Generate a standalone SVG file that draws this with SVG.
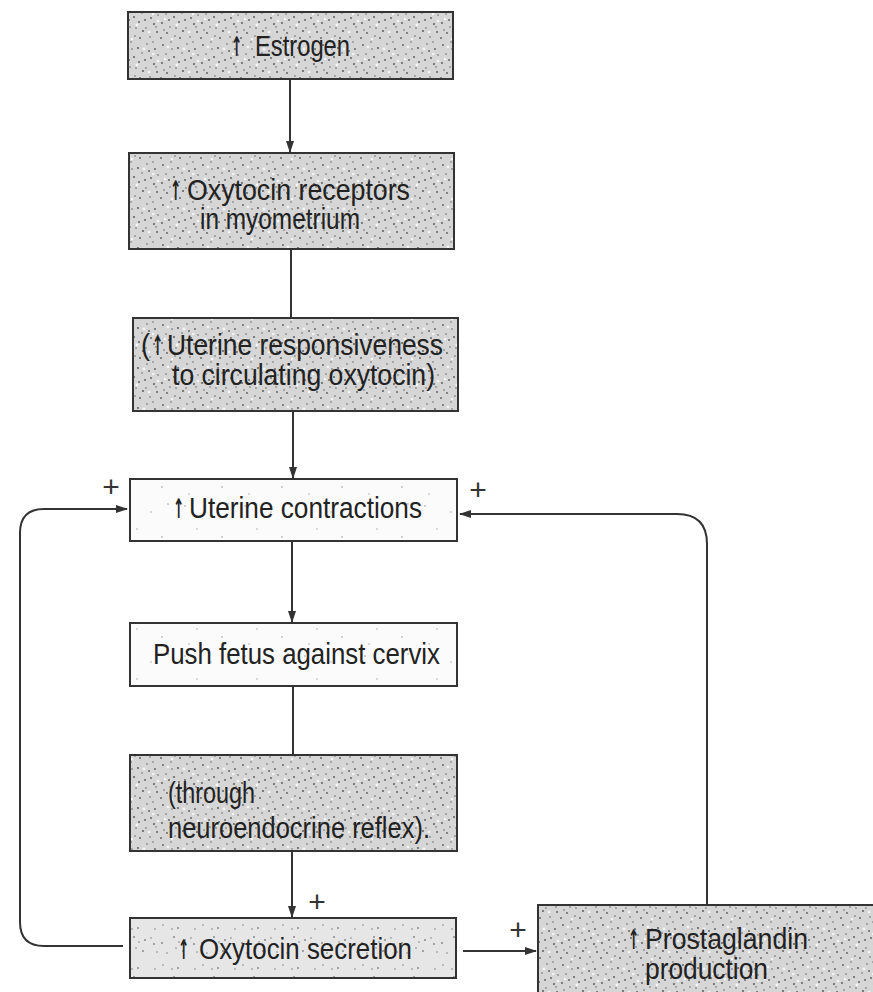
<svg xmlns="http://www.w3.org/2000/svg" width="873" height="992" viewBox="0 0 873 992">
<style>
.box{stroke:#333;stroke-width:2}
.t{font-family:"Liberation Sans",Arial,sans-serif;font-size:29px;fill:#222}
.ar{font-family:"DejaVu Sans",sans-serif;font-size:18px;font-weight:bold;fill:#222}
.plus{font-family:"Liberation Sans",Arial,sans-serif;font-size:30px;fill:#333;text-anchor:middle}
.c{fill:none;stroke:#333;stroke-width:2}
</style>
<defs>
<pattern id="stip" width="40" height="40" patternUnits="userSpaceOnUse">
<rect width="40" height="40" fill="#d6d6d6"/>
<g fill="#666">
<circle cx="3" cy="5" r="1"/><circle cx="11" cy="2" r="0.8"/><circle cx="18" cy="8" r="1.1"/><circle cx="27" cy="4" r="0.8"/><circle cx="35" cy="9" r="1"/>
<circle cx="6" cy="14" r="0.8"/><circle cx="14" cy="17" r="1.1"/><circle cx="22" cy="13" r="0.8"/><circle cx="31" cy="18" r="1"/><circle cx="38" cy="15" r="0.8"/>
<circle cx="2" cy="23" r="1.1"/><circle cx="10" cy="27" r="0.8"/><circle cx="19" cy="22" r="1"/><circle cx="26" cy="28" r="0.8"/><circle cx="34" cy="24" r="1.1"/>
<circle cx="7" cy="33" r="1"/><circle cx="15" cy="36" r="0.8"/><circle cx="23" cy="31" r="1.1"/><circle cx="30" cy="37" r="0.8"/><circle cx="37" cy="32" r="1"/>
<circle cx="12" cy="9" r="0.8"/><circle cx="29" cy="11" r="1"/><circle cx="4" cy="30" r="0.8"/><circle cx="20" cy="38" r="1"/><circle cx="33" cy="2" r="0.8"/>
<circle cx="25" cy="20" r="1"/><circle cx="16" cy="28" r="0.8"/><circle cx="9" cy="20" r="1"/><circle cx="36" cy="27" r="0.8"/><circle cx="1" cy="38" r="1"/>
</g>
<g fill="#f6f6f6">
<circle cx="8" cy="7" r="1.3"/><circle cx="24" cy="9" r="1.4"/><circle cx="33" cy="14" r="1.2"/><circle cx="5" cy="19" r="1.3"/><circle cx="17" cy="25" r="1.4"/><circle cx="29" cy="32" r="1.3"/><circle cx="12" cy="39" r="1.2"/><circle cx="38" cy="21" r="1.3"/>
</g>
</pattern>
<pattern id="stipLight" width="40" height="40" patternUnits="userSpaceOnUse">
<rect width="40" height="40" fill="#e6e6e6"/>
<g fill="#808080">
<circle cx="3" cy="5" r="0.8"/><circle cx="18" cy="8" r="0.9"/><circle cx="35" cy="9" r="0.8"/><circle cx="14" cy="17" r="0.9"/><circle cx="31" cy="18" r="0.8"/>
<circle cx="2" cy="23" r="0.9"/><circle cx="19" cy="22" r="0.8"/><circle cx="34" cy="24" r="0.9"/><circle cx="7" cy="33" r="0.8"/><circle cx="23" cy="31" r="0.9"/>
<circle cx="37" cy="32" r="0.8"/><circle cx="12" cy="9" r="0.8"/><circle cx="25" cy="20" r="0.9"/><circle cx="16" cy="28" r="0.8"/>
</g>
</pattern>
<pattern id="stipFaint" width="60" height="50" patternUnits="userSpaceOnUse">
<rect width="60" height="50" fill="#fbfbfb"/>
<g fill="#9a9a9a">
<circle cx="5" cy="6" r="0.8"/><circle cx="31" cy="12" r="0.7"/><circle cx="48" cy="4" r="0.8"/><circle cx="17" cy="29" r="0.7"/><circle cx="42" cy="37" r="0.8"/><circle cx="9" cy="44" r="0.7"/>
</g>
</pattern>
<marker id="ah" viewBox="0 0 12 10" refX="11" refY="5" markerWidth="12" markerHeight="10" markerUnits="userSpaceOnUse" orient="auto">
<path d="M0,1 L12,5 L0,9 Z" fill="#333"/>
</marker>
</defs>

<g id="connectors">
<line class="c" x1="290" y1="80" x2="290" y2="152" marker-end="url(#ah)"/>
<line class="c" x1="291" y1="249" x2="291" y2="318"/>
<line class="c" x1="293" y1="411" x2="293" y2="478" marker-end="url(#ah)"/>
<line class="c" x1="292" y1="541" x2="292" y2="622" marker-end="url(#ah)"/>
<line class="c" x1="293" y1="686" x2="293" y2="755"/>
<line class="c" x1="292" y1="851" x2="292" y2="917" marker-end="url(#ah)"/>
<path class="c" d="M123,946 H44 Q20,946 20,922 V533 Q20,509 44,509 H127" marker-end="url(#ah)"/>
<path class="c" d="M707,905 V544 Q707,514 677,514 H460" marker-end="url(#ah)"/>
<line class="c" x1="463" y1="951" x2="536" y2="951" marker-end="url(#ah)"/>
<text class="plus" x="111" y="497">+</text>
<text class="plus" x="478" y="500">+</text>
<text class="plus" x="317" y="912">+</text>
<text class="plus" x="518" y="940">+</text>
</g>

<g id="estrogen">
<rect class="box" x="128" y="12" width="325" height="67" fill="url(#stip)"/>
<text class="ar" transform="translate(231,56) scale(0.75,1.5)">↑</text>
<text class="t" x="255" y="56" textLength="95" lengthAdjust="spacingAndGlyphs">Estrogen</text>
</g>
<g id="receptors">
<rect class="box" x="129" y="153" width="325" height="96" fill="url(#stip)"/>
<text class="ar" transform="translate(170,200) scale(0.75,1.5)">↑</text>
<text class="t" x="187" y="200" textLength="223" lengthAdjust="spacingAndGlyphs">Oxytocin receptors</text>
<text class="t" x="200" y="229" textLength="160" lengthAdjust="spacingAndGlyphs">in myometrium</text>
</g>
<g id="responsiveness">
<rect class="box" x="133" y="318" width="325" height="93" fill="url(#stip)"/>
<text class="t" x="141" y="355" textLength="9" lengthAdjust="spacingAndGlyphs">(</text>
<text class="ar" transform="translate(152,355) scale(0.75,1.5)">↑</text>
<text class="t" x="167" y="355" textLength="276" lengthAdjust="spacingAndGlyphs">Uterine responsiveness</text>
<text class="t" x="172" y="385" textLength="263" lengthAdjust="spacingAndGlyphs">to circulating oxytocin)</text>
</g>
<g id="contractions">
<rect class="box" x="130" y="479" width="327" height="62" fill="url(#stipFaint)"/>
<text class="ar" transform="translate(173,518) scale(0.75,1.5)">↑</text>
<text class="t" x="189" y="518" textLength="233" lengthAdjust="spacingAndGlyphs">Uterine contractions</text>
</g>
<g id="push">
<rect class="box" x="130" y="623" width="327" height="63" fill="url(#stipFaint)"/>
<text class="t" x="153" y="664" textLength="287" lengthAdjust="spacingAndGlyphs">Push fetus against cervix</text>
</g>
<g id="reflex">
<rect class="box" x="130" y="755" width="327" height="96" fill="url(#stip)"/>
<text class="t" x="168" y="803" textLength="87" lengthAdjust="spacingAndGlyphs">(through</text>
<text class="t" x="168" y="838" textLength="262" lengthAdjust="spacingAndGlyphs">neuroendocrine reflex).</text>
</g>
<g id="oxytocin-secretion">
<rect class="box" x="130" y="918" width="326" height="60" fill="url(#stipLight)"/>
<text class="ar" transform="translate(178,959) scale(0.75,1.5)">↑</text>
<text class="t" x="199" y="959" textLength="213" lengthAdjust="spacingAndGlyphs">Oxytocin secretion</text>
</g>
<g id="prostaglandin">
<rect class="box" x="538" y="905" width="345" height="100" fill="url(#stip)"/>
<text class="ar" transform="translate(628,949) scale(0.75,1.5)">↑</text>
<text class="t" x="645" y="949" textLength="163" lengthAdjust="spacingAndGlyphs">Prostaglandin</text>
<text class="t" x="645" y="979" textLength="123" lengthAdjust="spacingAndGlyphs">production</text>
</g>
</svg>
